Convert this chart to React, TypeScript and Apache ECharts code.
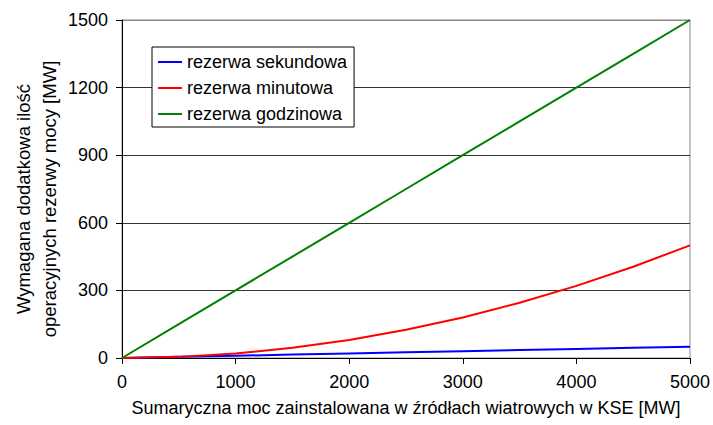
import React, { useEffect, useRef } from "react";
import * as echarts from "echarts";

const xValues = [0, 500, 1000, 1500, 2000, 2500, 3000, 3500, 4000, 4500, 5000];
const sekundowa = [0, 5, 10, 15, 20, 25, 30, 35, 40, 45, 50];
const minutowa = [0, 5, 20, 45, 80, 125, 180, 245, 320, 405, 500];
const godzinowa = [0, 150, 300, 450, 600, 750, 900, 1050, 1200, 1350, 1500];
const seriesNames = ["rezerwa sekundowa", "rezerwa minutowa", "rezerwa godzinowa"];
const seriesColors = ["#0000ff", "#ff0000", "#008000"];
const yNameLines = ["Wymagana dodatkowa ilość", "operacyjnych rezerwy mocy [MW]"];
const xName = "Sumaryczna moc zainstalowana w źródłach wiatrowych w KSE [MW]";

const FONT = "'Liberation Sans', Arial, sans-serif";

export default function App() {
  const ref = useRef<HTMLDivElement>(null);
  useEffect(() => {
    if (!ref.current) return;
    document.body.style.margin = "0";
    const chart = echarts.init(ref.current, null, { renderer: "svg" });
    const all = [sekundowa, minutowa, godzinowa];
    chart.setOption({
      animation: false,
      backgroundColor: "#ffffff",
      textStyle: { fontFamily: FONT },
      grid: {
        left: 122,
        right: 21,
        top: 20,
        bottom: 67,
        show: true,
        borderColor: "#888888",
        borderWidth: 1,
      },
      graphic: yNameLines.map((t, i) => ({
        type: "text",
        x: i === 0 ? 23 : 49,
        y: 199,
        rotation: Math.PI / 2,
        style: {
          text: t,
          fontSize: 18.5,
          fontFamily: FONT,
          fill: "#000",
          textAlign: "center",
          textVerticalAlign: "middle",
        },
      })),
      legend: {
        orient: "vertical",
        left: 152,
        top: 47,
        backgroundColor: "#ffffff",
        borderColor: "#000000",
        borderWidth: 1,
        borderRadius: 0,
        padding: [6, 7, 4, 6],
        icon: "rect",
        itemWidth: 24,
        itemHeight: 2,
        itemGap: 8,
        textStyle: { fontSize: 18, color: "#000", fontFamily: FONT },
        data: seriesNames,
      },
      xAxis: {
        type: "value",
        min: 0,
        max: 5000,
        interval: 1000,
        name: xName,
        nameLocation: "middle",
        nameGap: 41,
        nameTextStyle: { fontSize: 18, color: "#000", fontFamily: FONT },
        axisLine: { lineStyle: { color: "#000", width: 1 } },
        axisTick: { show: true, inside: false, length: 6, lineStyle: { color: "#000" } },
        axisLabel: {
          fontSize: 18,
          color: "#000",
          margin: 15,
          fontFamily: FONT,
          formatter: (v: number) => String(v),
        },
        splitLine: { show: false },
      },
      yAxis: {
        type: "value",
        min: 0,
        max: 1500,
        interval: 300,
        axisLine: { lineStyle: { color: "#000", width: 1 } },
        axisTick: { show: true, inside: false, length: 6, lineStyle: { color: "#000" } },
        axisLabel: {
          fontSize: 18,
          color: "#000",
          margin: 14,
          fontFamily: FONT,
          formatter: (v: number) => String(v),
        },
        splitLine: {
          show: true,
          lineStyle: { color: ["#000", "#333", "#333", "#333", "#333", "#888"], width: 1 },
        },
      },
      series: all.map((vals, i) => ({
        name: seriesNames[i],
        type: "line",
        symbol: "none",
        data: xValues.map((x, j) => [x, vals[j]]),
        lineStyle: { color: seriesColors[i], width: 2 },
        itemStyle: { color: seriesColors[i] },
        z: 3 + i,
      })),
    });
    return () => chart.dispose();
  }, []);
  return <div ref={ref} style={{ width: 713, height: 425 }} />;
}
